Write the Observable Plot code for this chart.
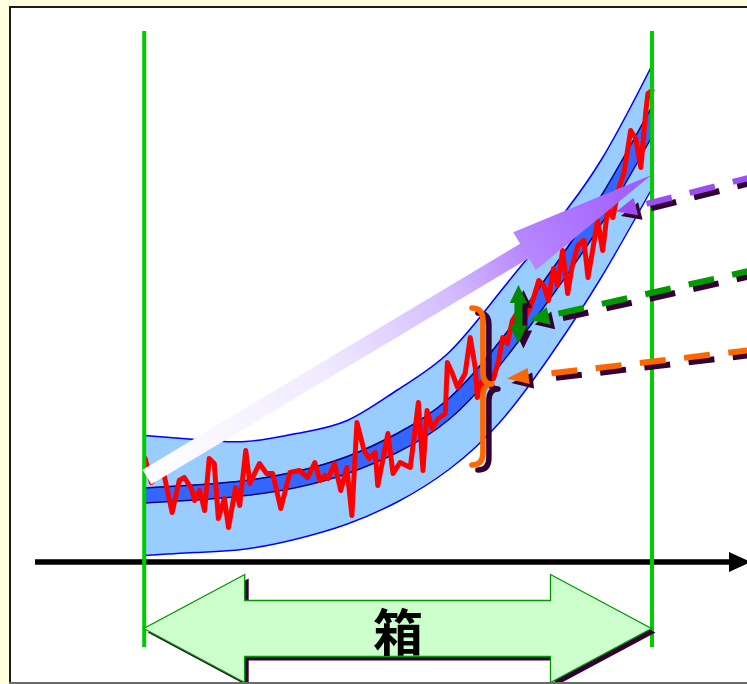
<!DOCTYPE html>
<html><head><meta charset="utf-8">
<script src="https://cdn.jsdelivr.net/npm/d3@7"></script>
<script src="https://cdn.jsdelivr.net/npm/@observablehq/plot@0.6"></script>
<style>
html,body{margin:0;padding:0;overflow:hidden;background:#FFFFE0;}
#wrap{position:relative;width:747px;height:684px;overflow:hidden;}
#frame{position:absolute;left:9px;top:6px;width:800px;height:674px;background:#fff;border:2px solid #1c1c1c;}
#chart{position:absolute;left:0;top:0;}
#bottomline{position:absolute;left:9px;top:682px;width:800px;height:2px;background:#6a6a6a;}
</style></head><body>
<div id="wrap"><div id="frame"></div><div id="chart"></div><div id="bottomline"></div></div>
<script>
// ---- band data (t = time 0..100, v = value) ----
const bandT      = [0, 10, 20, 30, 40, 50, 60, 70, 80, 90, 100];
const lightUpper = [25.4, 24.6, 24.2, 25.8, 28.4, 34.6, 42.0, 54.0, 66.4, 80.5, 99.4];
const lightLower = [1.4, 2.0, 2.7, 4.7, 7.7, 12.2, 18.6, 28.0, 41.4, 57.0, 74.8];
const darkUpper  = [14.9, 15.5, 16.4, 18.2, 21.2, 25.9, 32.8, 44.2, 58.1, 73.3, 91.2];
const darkLower  = [11.9, 12.5, 13.4, 15.0, 17.8, 22.1, 28.6, 39.4, 52.9, 67.7, 85.2];

// ---- noisy observed series ----
const redT = [0.2,1.4,2.6,3.6,5.5,6.9,7.9,9.3,9.9,10.9,11.9,12.8,13.8,14.6,15.8,16.6,18.0,18.8,20.0,20.8,22.7,24.1,25.3,26.9,28.7,30.6,32.2,33.6,34.6,35.6,36.2,37.5,38.7,39.9,40.9,41.9,43.3,44.3,45.5,46.0,48.0,49.0,50.4,52.4,54.0,54.9,55.7,56.7,57.9,59.3,59.7,60.7,61.7,63.2,64.2,65.2,65.6,66.2,67.6,68.8,69.8,70.6,71.5,72.5,73.5,74.1,75.7,76.7,77.7,78.7,79.6,80.6,81.4,82.4,83.4,84.2,85.4,86.6,87.4,88.3,89.3,90.3,91.3,92.3,93.5,94.5,95.8,96.8,97.8,98.8,99.2,100];
const redV = [20.8,16,17.4,19,10,16.4,17,14.8,12.4,14.4,10.4,20.8,19.8,8.8,12.8,7,15,11.4,22.4,15.8,19.8,17.8,17.8,10.8,18,18.4,17,20,16.4,17.4,16.8,19.8,14.4,19,9.4,28,22.4,20.8,22,15.4,25.8,17.8,20,19,32,18.4,30.4,26.8,28.8,29.8,40,37.8,35,37.8,45,39,33,35.8,37,36.8,40.4,45,43.8,48.4,50,47,50.4,53,56.4,55.4,52.4,58.8,55.4,62.4,53.8,58.8,63.4,64.4,57,62.4,68.4,62.4,71,69,75,78,86.4,84.8,79,90.4,93.8,94.4];

// ---- annotation anchors ----
const guideT = [0, 100];
const guideTop = 106.2, guideBottom = -17;
const axisStartT = -21.4, axisEndT = 119.6, axisV = 0;
const trendStart = [0.65, 17.0], trendEnd = [100, 77.4];
const braceT = 66.8, braceTop = 50.8, braceMid = 35.6, braceBottom = 19.4;
const gapT = 73.8, gapTop = 55.4, gapBottom = 43.7;
const pointerNames = ["trend", "gap", "spread"];
const pointerTipT = [93.1, 76.1, 71.5];
const pointerTipV = [70.1, 48.4, 36.7];
const pointerEndT = [121.4, 121.4, 121.4];
const pointerEndV = [77.4, 58.7, 42.6];
const pointerColors = ["#9B4FF0", "#009900", "#FF6600"];
const spanStartT = 0, spanEndT = 100, spanV = -13.3;
const spanLabel = ["箱"];
const spanLabelT = 50, spanLabelV = -14.5;

const band = bandT.map((t, i) => ({t, lu: lightUpper[i], ll: lightLower[i], du: darkUpper[i], dl: darkLower[i]}));
const red = redT.map((t, i) => ({t, v: redV[i]}));

const SHADOW = "#330033";

function getScales(scales) {
  const X = typeof scales.x === "function" ? scales.x : scales.scales.x.apply;
  const Y = typeof scales.y === "function" ? scales.y : scales.scales.y.apply;
  return {X, Y};
}
function pts(a, dx = 0, dy = 0) { return a.map(p => `${p[0] + dx},${p[1] + dy}`).join(" "); }
function arrowPoly(x0, y0, x1, y1, s, h, hl) {
  const L = Math.hypot(x1 - x0, y1 - y0), ux = (x1 - x0) / L, uy = (y1 - y0) / L, nx = -uy, ny = ux;
  const bx = x1 - ux * hl, by = y1 - uy * hl;
  return [[x0 + nx * s, y0 + ny * s], [bx + nx * s, by + ny * s], [bx + nx * h, by + ny * h], [x1, y1],
          [bx - nx * h, by - ny * h], [bx - nx * s, by - ny * s], [x0 - nx * s, y0 - ny * s]];
}
function doubleArrowPoly(x0, y0, x1, y1, s, h, hl) {
  const L = Math.hypot(x1 - x0, y1 - y0), ux = (x1 - x0) / L, uy = (y1 - y0) / L, nx = -uy, ny = ux;
  const ax = x0 + ux * hl, ay = y0 + uy * hl, bx = x1 - ux * hl, by = y1 - uy * hl;
  return [[x0, y0], [ax + nx * h, ay + ny * h], [ax + nx * s, ay + ny * s], [bx + nx * s, by + ny * s], [bx + nx * h, by + ny * h],
          [x1, y1], [bx - nx * h, by - ny * h], [bx - nx * s, by - ny * s], [ax - nx * s, ay - ny * s], [ax - nx * h, ay - ny * h]];
}

function axisMark(index, scales) {
  const {X, Y} = getScales(scales);
  const g = d3.create("svg:g");
  g.append("polygon").attr("points", pts(arrowPoly(X(axisStartT), Y(axisV), X(axisEndT), Y(axisV), 2.8, 10, 22))).attr("fill", "#000");
  return g.node();
}
function trendMark(index, scales) {
  const {X, Y} = getScales(scales);
  const x0 = X(trendStart[0]), y0 = Y(trendStart[1]), x1 = X(trendEnd[0]), y1 = Y(trendEnd[1]);
  const g = d3.create("svg:g");
  const grad = g.append("defs").append("linearGradient").attr("id", "trendGrad")
    .attr("gradientUnits", "userSpaceOnUse").attr("x1", x0).attr("y1", y0).attr("x2", x1).attr("y2", y1);
  [[0, "#FFFFFF"], [0.35, "#F0EAFF"], [0.6, "#D4BCFF"], [0.75, "#B787FF"], [1, "#9D58FF"]]
    .forEach(([o, c]) => grad.append("stop").attr("offset", o).attr("stop-color", c));
  g.append("polygon").attr("points", pts(arrowPoly(x0, y0, x1, y1, 8.5, 22, 148))).attr("fill", "url(#trendGrad)");
  return g.node();
}
function braceMark(index, scales) {
  const {X, Y} = getScales(scales);
  const xs = X(braceT), t = Y(braceTop), m = Y(braceMid), b = Y(braceBottom), r = 12;
  const d = `M${xs - 11},${t} Q${xs},${t} ${xs},${t + r} L${xs},${m - r} Q${xs},${m} ${xs + 9},${m} Q${xs},${m} ${xs},${m + r} L${xs},${b - r} Q${xs},${b} ${xs - 11},${b}`;
  const g = d3.create("svg:g").attr("fill", "none").attr("stroke-width", 5.5).attr("stroke-linecap", "round").attr("stroke-linejoin", "round");
  g.append("path").attr("d", d).attr("stroke", SHADOW).attr("transform", "translate(6,5)");
  g.append("path").attr("d", d).attr("stroke", "#FF6600");
  return g.node();
}
function gapArrowMark(index, scales) {
  const {X, Y} = getScales(scales);
  const poly = doubleArrowPoly(X(gapT), Y(gapTop), X(gapT), Y(gapBottom), 4, 8.7, 18);
  const g = d3.create("svg:g");
  g.append("polygon").attr("points", pts(poly, 5, 5)).attr("fill", SHADOW);
  g.append("polygon").attr("points", pts(poly)).attr("fill", "#008800");
  return g.node();
}
function pointerMark(index, scales) {
  const {X, Y} = getScales(scales);
  const g = d3.create("svg:g");
  const gapStart = [31, 29, 45], headLen = [20, 19, 22], headHalf = [9, 9, 8];
  pointerNames.forEach((name, i) => {
    const tx = X(pointerTipT[i]), ty = Y(pointerTipV[i]), ex = X(pointerEndT[i]), ey = Y(pointerEndV[i]);
    const L = Math.hypot(ex - tx, ey - ty), ux = (ex - tx) / L, uy = (ey - ty) / L, nx = -uy, ny = ux;
    const sx = tx + ux * gapStart[i], sy = ty + uy * gapStart[i];
    const bx = tx + ux * headLen[i], by = ty + uy * headLen[i];
    const head = [[tx, ty], [bx + nx * headHalf[i], by + ny * headHalf[i]], [bx - nx * headHalf[i], by - ny * headHalf[i]]];
    for (const [dx, dy, c] of [[4.5, 4.5, SHADOW], [0, 0, pointerColors[i]]]) {
      g.append("line").attr("x1", sx + dx).attr("y1", sy + dy).attr("x2", ex + dx).attr("y2", ey + dy)
        .attr("stroke", c).attr("stroke-width", 6).attr("stroke-dasharray", "26 18.5");
      g.append("polygon").attr("points", pts(head, dx, dy)).attr("fill", c);
    }
  });
  return g.node();
}
function spanMark(index, scales) {
  const {X, Y} = getScales(scales);
  const poly = doubleArrowPoly(X(spanStartT), Y(spanV), X(spanEndT), Y(spanV), 28, 54, 101);
  const g = d3.create("svg:g");
  g.append("polygon").attr("points", pts(poly, 4, 4)).attr("fill", SHADOW);
  g.append("polygon").attr("points", pts(poly)).attr("fill", "#CCFFCC").attr("stroke", "#009900").attr("stroke-width", 1.3);
  return g.node();
}

const chart = Plot.plot({
  width: 747, height: 684, margin: 0,
  style: {background: "transparent", overflow: "visible"},
  x: {domain: [-28.30, 118.81], axis: null},
  y: {domain: [-24.4, 112.4], axis: null},
  marks: [
    Plot.areaY(band, {x: "t", y1: "ll", y2: "lu", fill: "#99CCFF", curve: "natural"}),
    Plot.line(band, {x: "t", y: "lu", stroke: "#0000FF", strokeWidth: 1.5, curve: "natural"}),
    Plot.line(band, {x: "t", y: "ll", stroke: "#0000FF", strokeWidth: 1.5, curve: "natural"}),
    Plot.areaY(band, {x: "t", y1: "dl", y2: "du", fill: "#3366FF", curve: "natural"}),
    Plot.line(band, {x: "t", y: "du", stroke: "#000080", strokeWidth: 1.5, curve: "natural"}),
    Plot.line(band, {x: "t", y: "dl", stroke: "#000080", strokeWidth: 1.5, curve: "natural"}),
    Plot.line(red, {x: "t", y: "v", stroke: "#FF0000", strokeWidth: 5, strokeLinejoin: "round"}),
    axisMark,
    Plot.ruleX(guideT, {x: d => d, y1: () => guideBottom, y2: () => guideTop, stroke: "#00CC00", strokeWidth: 4}),
    trendMark,
    braceMark,
    gapArrowMark,
    pointerMark,
    spanMark,
    Plot.text(spanLabel, {x: () => spanLabelT, y: () => spanLabelV, text: d => d, fontSize: 50, fontWeight: "bold",
      fontFamily: "'Noto Sans CJK JP', 'Noto Sans CJK SC', sans-serif", fill: "#000"})
  ]
});
document.getElementById("chart").appendChild(chart);
</script>
</body></html>
